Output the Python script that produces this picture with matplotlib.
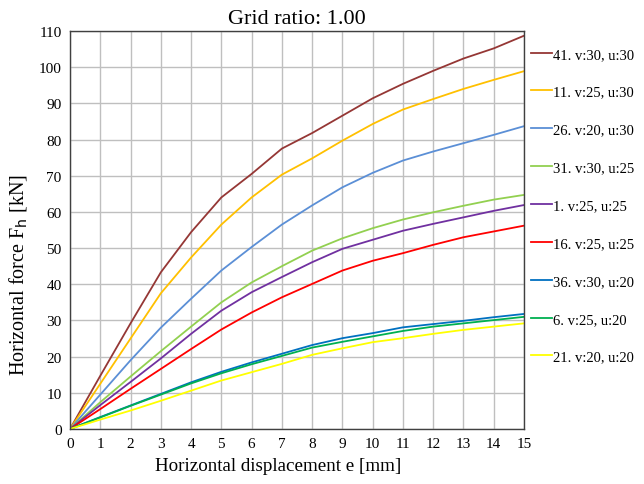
import matplotlib
matplotlib.use("Agg")
import matplotlib.pyplot as plt

plt.rcParams['font.family'] = ['Liberation Serif', 'DejaVu Serif']

displacement = [0, 1, 2, 3, 4, 5, 6, 7, 8, 9, 10, 11, 12, 13, 14, 15]

labels = ["41. v:30, u:30", "11. v:25, u:30", "26. v:20, u:30",
          "31. v:30, u:25", "1. v:25, u:25", "16. v:25, u:25",
          "36. v:30, u:20", "6. v:25, u:20", "21. v:20, u:20"]

f41 = [0, 14.7, 29.2, 43.3, 54.4, 64, 70.5, 77.5, 81.8, 86.6, 91.4, 95.4, 99, 102.4, 105.2, 108.7]
f11 = [0, 12.5, 25, 37.5, 47.4, 56.5, 64, 70.3, 74.8, 79.7, 84.3, 88.3, 91.2, 94, 96.5, 98.9]
f26 = [0, 9.5, 19, 28, 36, 43.8, 50.3, 56.5, 61.8, 66.8, 70.8, 74.2, 76.7, 79, 81.3, 83.7]
f31 = [0, 7.4, 14.5, 21.5, 28.3, 35, 40.5, 45, 49.3, 52.7, 55.5, 57.9, 59.9, 61.7, 63.4, 64.7]
f1 = [0, 6.6, 13, 19.5, 26.3, 32.7, 37.8, 42, 46.1, 49.8, 52.3, 54.8, 56.7, 58.5, 60.3, 61.9]
f16 = [0, 5.5, 11.1, 16.6, 22.1, 27.5, 32.2, 36.4, 40.1, 43.8, 46.5, 48.6, 50.9, 53, 54.6, 56.2]
f36 = [0, 3.3, 6.5, 9.7, 12.9, 15.8, 18.4, 20.8, 23.2, 25.1, 26.5, 28.1, 29, 29.9, 30.9, 31.8]
f6 = [0, 3.2, 6.4, 9.5, 12.6, 15.4, 17.9, 20.2, 22.5, 24.1, 25.6, 27.1, 28.3, 29.2, 30.1, 31]
f21 = [0, 2.6, 5.1, 7.8, 10.6, 13.4, 15.7, 18, 20.5, 22.3, 24, 25.1, 26.3, 27.4, 28.3, 29.2]

series = [f41, f11, f26, f31, f1, f16, f36, f6, f21]
colors = ["#953735", "#FFC000", "#5B8FD6", "#92D050", "#7030A0",
          "#FF0000", "#0070C0", "#00B050", "#FFFF00"]

fig = plt.figure(figsize=(6.44, 4.85), dpi=100)
ax = fig.add_axes([0.1087, 0.1134, 0.705, 0.8206])

for vals, lab, col in zip(series, labels, colors):
    ax.plot(displacement, vals, color=col, lw=1.3, label=lab)

ax.set_xlim(0, 15)
ax.set_ylim(0, 110)
ax.set_xticks(range(0, 16))
ax.set_yticks(range(0, 111, 10))
ax.grid(True, color="#bfbfbf", lw=1.0)
ax.set_axisbelow(True)
for s in ax.spines.values():
    s.set_color("#404040")
    s.set_linewidth(1.0)
ax.tick_params(length=0, labelsize=11, pad=6)

ax.set_title("Grid ratio: 1.00", fontsize=16, pad=6)
ax.set_xlabel("Horizontal displacement e [mm]", fontsize=13.7, labelpad=5, x=0.458)
ax.set_ylabel("Horizontal force F$_\\mathrm{h}$ [kN]", fontsize=14.5, labelpad=7, y=0.39)

fig.legend(loc="upper left", bbox_to_anchor=(0.815, 0.912), frameon=False,
           fontsize=10.5, labelspacing=1.69, handlelength=1.45, handletextpad=0.05,
           borderaxespad=0)

fig.savefig("out.png", dpi=100)
